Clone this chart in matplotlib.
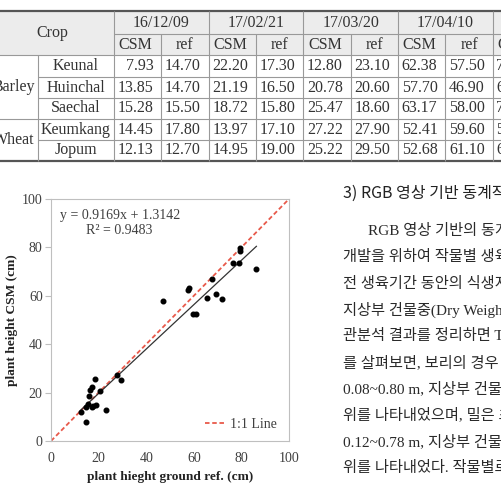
import numpy as np
import matplotlib.pyplot as plt
from matplotlib.patches import Rectangle

# ---- data ----
crop_groups = ['Barley', 'Wheat']
cultivars = ['Keunal', 'Huinchal', 'Saechal', 'Keumkang', 'Jopum']
dates = ['16/12/09', '17/02/21', '17/03/20', '17/04/10', '17/05/08']

csm_0 = [7.93, 13.85, 15.28, 14.45, 12.13]
ref_0 = [14.70, 14.70, 15.50, 17.80, 12.70]
csm_1 = [22.20, 21.19, 18.72, 13.97, 14.95]
ref_1 = [17.30, 16.50, 15.80, 17.10, 19.00]
csm_2 = [12.80, 20.78, 25.47, 27.22, 25.22]
ref_2 = [23.10, 20.60, 18.60, 27.90, 29.50]
csm_3 = [62.38, 57.70, 63.17, 52.41, 52.68]
ref_3 = [57.50, 46.90, 58.00, 59.60, 61.10]
# later dates (cut off in the table)
csm_4 = [73.40, 66.80, 73.40, 58.80, 60.70]
ref_4 = [76.60, 67.70, 79.00, 72.00, 69.50]
csm_5 = [79.90, 59.10, 78.70, 71.10]
ref_5 = [79.30, 65.70, 79.30, 86.30]

slope = 0.9169
intercept = 1.3142
r2 = 0.9483

csm_table = [csm_0, csm_1, csm_2, csm_3, csm_4]
ref_table = [ref_0, ref_1, ref_2, ref_3, ref_4]

ref_all = np.array(ref_0 + ref_1 + ref_2 + ref_3 + ref_4 + ref_5)
csm_all = np.array(csm_0 + csm_1 + csm_2 + csm_3 + csm_4 + csm_5)

body_lines = [
    'RGB 영상 기반의 동계작물 생육',
    '개발을 위하여 작물별 생육 조사',
    '전 생육기간 동안의 식생지수와',
    '지상부 건물중(Dry Weight) 자료',
    '관분석 결과를 정리하면 Table 4',
    '를 살펴보면, 보리의 경우 초장은',
    '0.08~0.80 m, 지상부 건물중은',
    '위를 나타내었으며, 밀은 초장이',
    '0.12~0.78 m, 지상부 건물중은',
    '위를 나타내었다. 작물별로 보면',
]

serif = ['Liberation Serif', 'Noto Sans CJK KR']
txt = '#333333'
tsize = 11.5

fig = plt.figure(figsize=(5.02, 4.87), dpi=100)

# page layer in pixel coordinates
page = fig.add_axes([0, 0, 1, 1])
page.set_xlim(0, 502)
page.set_ylim(487, 0)
page.axis('off')

# caption, cut off at the top edge
page.text(330, -8, 'Table 3. Comparison of plant height by CSM and ground ref. (unit: cm), by crop',
          ha='center', va='center', fontsize=10, family=serif, color=txt)

# ---- table ----
col_x = [114 + 47.35 * i for i in range(11)]
row_y = [55, 77, 98, 119, 140, 161]
page.add_patch(Rectangle((-20, 11), 600, 44, color='#ececec', lw=0, zorder=0))
page.hlines(11, -20, 560, color='#555555', lw=1.6)
page.hlines(161, -20, 560, color='#555555', lw=1.6)
page.hlines(34, 114, 560, color='#999999', lw=0.8)
page.hlines(55, -20, 560, color='#999999', lw=0.8)
page.hlines([77, 98, 140], 38, 560, color='#999999', lw=0.8)
page.hlines(119, -20, 560, color='#999999', lw=0.8)
page.vlines(38, 55, 161, color='#999999', lw=0.8)
for i, x in enumerate(col_x):
    top = 11 if i % 2 == 0 else 34
    page.vlines(x, top, 161, color='#999999', lw=0.8)

page.text(52, 33, 'Crop', ha='center', va='center', fontsize=tsize, family=serif, color=txt)
for j, d in enumerate(dates):
    xc = col_x[2 * j + 1]
    page.text(xc, 23, d, ha='center', va='center', fontsize=tsize, family=serif, color=txt)
    page.text((col_x[2 * j] + xc) / 2 - 2, 45, 'CSM', ha='center', va='center',
              fontsize=tsize, family=serif, color=txt)
    page.text((col_x[2 * j + 2] + xc) / 2, 45, 'ref', ha='center', va='center',
              fontsize=tsize, family=serif, color=txt)
    for r in range(5):
        yc = (row_y[r] + row_y[r + 1]) / 2
        page.text(xc - 8, yc, f'{csm_table[j][r]:.2f}', ha='right', va='center',
                  fontsize=tsize, family=serif, color=txt)
        page.text(col_x[2 * j + 2] - 8, yc, f'{ref_table[j][r]:.2f}', ha='right', va='center',
                  fontsize=tsize, family=serif, color=txt)

page.text(14, 87, crop_groups[0], ha='center', va='center', fontsize=tsize, family=serif, color=txt)
page.text(14, 140, crop_groups[1], ha='center', va='center', fontsize=tsize, family=serif, color=txt)
for r, name in enumerate(cultivars):
    page.text(76, (row_y[r] + row_y[r + 1]) / 2, name, ha='center', va='center',
              fontsize=tsize, family=serif, color=txt)

# ---- body text on the right ----
page.text(343, 193, '3) RGB 영상 기반 동계작물 생육', ha='left', va='center',
          fontsize=11.5, family=['Noto Sans CJK KR'], color='#222222')
for k, line in enumerate(body_lines):
    x0 = 368 if k == 0 else 343
    page.text(x0, 231 + 26.3 * k, line, ha='left', va='center',
              fontsize=11, family=serif, color='#2a2a2a')

# ---- scatter chart ----
ax = fig.add_axes([51 / 502, 46 / 487, 238 / 502, 242 / 487])
ax.scatter(ref_all, csm_all, s=11, color='black', zorder=3)
ax.plot([0, 100], [0, 100], color='#e8594a', lw=1.3, dashes=(2.5, 1.5),
        label='1:1 Line', zorder=2)
x_fit = np.array([ref_all.min(), ref_all.max()])
ax.plot(x_fit, slope * x_fit + intercept, color='#333333', lw=0.9, zorder=2)

ax.set_xlim(0, 100)
ax.set_ylim(0, 100)
ax.set_xticks(range(0, 101, 20))
ax.set_yticks(range(0, 101, 20))
for s in ax.spines.values():
    s.set_color('#bfbfbf')
ax.tick_params(axis='y', length=4, color='#bfbfbf', pad=2, labelsize=10, labelcolor='#404040')
ax.tick_params(axis='x', length=0, pad=8, labelsize=10, labelcolor='#404040')
for lab in ax.get_xticklabels() + ax.get_yticklabels():
    lab.set_family('Liberation Serif')

ax.set_xlabel('plant hieght ground ref. (cm)', fontsize=9.6, fontweight='bold',
              family='Liberation Serif', color='#222222', labelpad=4)
ax.set_ylabel('plant height CSM (cm)', fontsize=9.6, fontweight='bold',
              family='Liberation Serif', color='#222222', labelpad=3)

ax.text(0.038, 0.93, f'y = {slope}x + {intercept}', transform=ax.transAxes,
        ha='left', va='center', fontsize=10, family='Liberation Serif', color='#404040')
ax.text(0.147, 0.868, f'R² = {r2}', transform=ax.transAxes,
        ha='left', va='center', fontsize=10, family='Liberation Serif', color='#404040')

leg = ax.legend(loc='lower right', bbox_to_anchor=(1.0, -0.01), frameon=False,
                handlelength=1.5, handletextpad=0.25,
                prop={'family': 'Liberation Serif', 'size': 10})
for t in leg.get_texts():
    t.set_color('#404040')

fig.savefig('out.png', dpi=100)
